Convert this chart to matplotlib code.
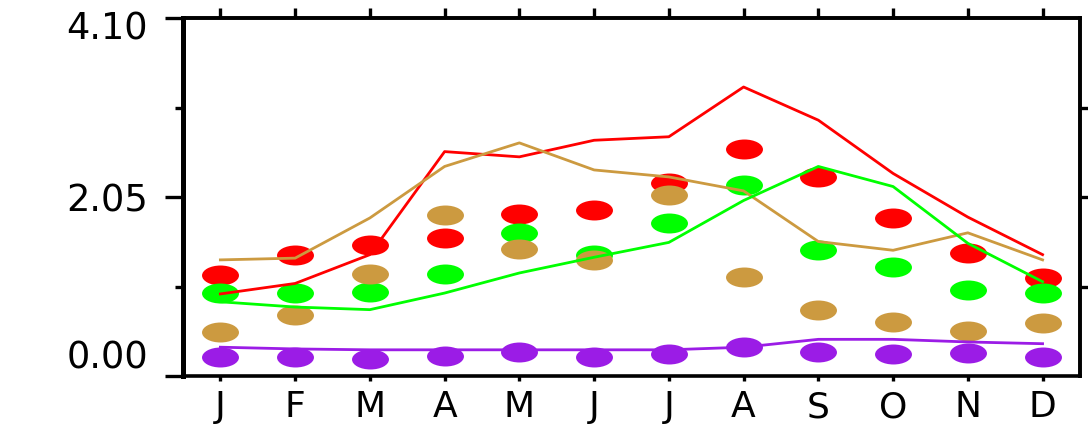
import matplotlib
matplotlib.use('Agg')
import matplotlib.pyplot as plt
from matplotlib.path import Path
from matplotlib.transforms import Affine2D, ScaledTranslation

months = ['J', 'F', 'M', 'A', 'M', 'J', 'J', 'A', 'S', 'O', 'N', 'D']
x = list(range(1, 13))

# lines
red_line = [0.94, 1.06, 1.39, 2.57, 2.51, 2.70, 2.74, 3.31, 2.93, 2.32, 1.82, 1.39]
tan_line = [1.33, 1.35, 1.81, 2.40, 2.67, 2.36, 2.28, 2.12, 1.54, 1.44, 1.64, 1.33]
green_line = [0.85, 0.79, 0.76, 0.95, 1.18, 1.36, 1.53, 2.01, 2.40, 2.17, 1.52, 1.08]
purple_line = [0.33, 0.31, 0.30, 0.30, 0.30, 0.30, 0.30, 0.33, 0.42, 0.42, 0.39, 0.37]

# dots
red_dots = [1.16, 1.39, 1.50, 1.58, 1.85, 1.90, 2.21, 2.60, 2.28, 1.81, 1.41, 1.12]
green_dots = [0.95, 0.95, 0.96, 1.17, 1.64, 1.39, 1.75, 2.19, 1.44, 1.25, 0.99, 0.95]
tan_dots = [0.50, 0.70, 1.17, 1.84, 1.46, 1.33, 2.07, 1.13, 0.76, 0.62, 0.51, 0.61]
purple_dots = [0.22, 0.22, 0.20, 0.23, 0.27, 0.22, 0.25, 0.33, 0.27, 0.25, 0.26, 0.22]

RED = '#ff0000'
GREEN = '#00ff00'
TAN = '#cc9a40'
PURPLE = '#9b1ce6'

plt.rcParams['font.family'] = ['DejaVu Sans']

fig = plt.figure(figsize=(10.88, 4.32), dpi=100)
ax = fig.add_axes([0.1682, 0.1296, 0.9926 - 0.1682, 0.9583 - 0.1296])

oval = Affine2D().scale(1.85, 1.0).transform_path(Path.unit_circle())

for vals, col in [(red_dots, RED), (green_dots, GREEN), (tan_dots, TAN), (purple_dots, PURPLE)]:
    ax.plot(x, vals, linestyle='none', marker=oval, markersize=26.6,
            markeredgewidth=0, color=col, zorder=2)

for vals, col in [(red_line, RED), (tan_line, TAN), (green_line, GREEN), (purple_line, PURPLE)]:
    ax.plot(x, vals, color=col, linewidth=2.0, zorder=3)

ax.set_xlim(0.5, 12.5)
ax.set_ylim(0, 4.10)

ax.set_xticks(x)
ax.set_xticklabels(months)
ax.set_yticks([0, 2.05, 4.10])
ax.set_yticklabels(['0.00', '2.05', '4.10'])
ax.set_yticks([1.025, 3.075], minor=True)

ax.tick_params(axis='y', which='major', direction='out', length=13, width=2.4,
               labelsize=26.5, pad=12)
ax.tick_params(axis='y', which='minor', direction='out', length=5.8, width=2.4)
ax.tick_params(axis='x', which='major', direction='out', length=3.6, width=2.4,
               labelsize=26, pad=6.5)
ylabs = ax.get_yticklabels()
ylabs[0].set_va('bottom')
ylabs[2].set_transform(ylabs[2].get_transform() +
                       ScaledTranslation(0, -0.07, fig.dpi_scale_trans))

for side in ['top', 'bottom', 'right']:
    ax.spines[side].set_linewidth(2.6)
ax.spines['left'].set_linewidth(3.6)

top = ax.secondary_xaxis('top')
top.set_xticks(x)
top.set_xticklabels([])
top.tick_params(direction='out', length=7, width=2.4)
top.spines['top'].set_linewidth(2.6)

right = ax.secondary_yaxis('right')
right.set_yticks([1.025, 2.05, 3.075])
right.set_yticklabels([])
right.tick_params(direction='out', length=5.8, width=2.4)
right.spines['right'].set_linewidth(2.6)

fig.savefig('out.png', dpi=100)
